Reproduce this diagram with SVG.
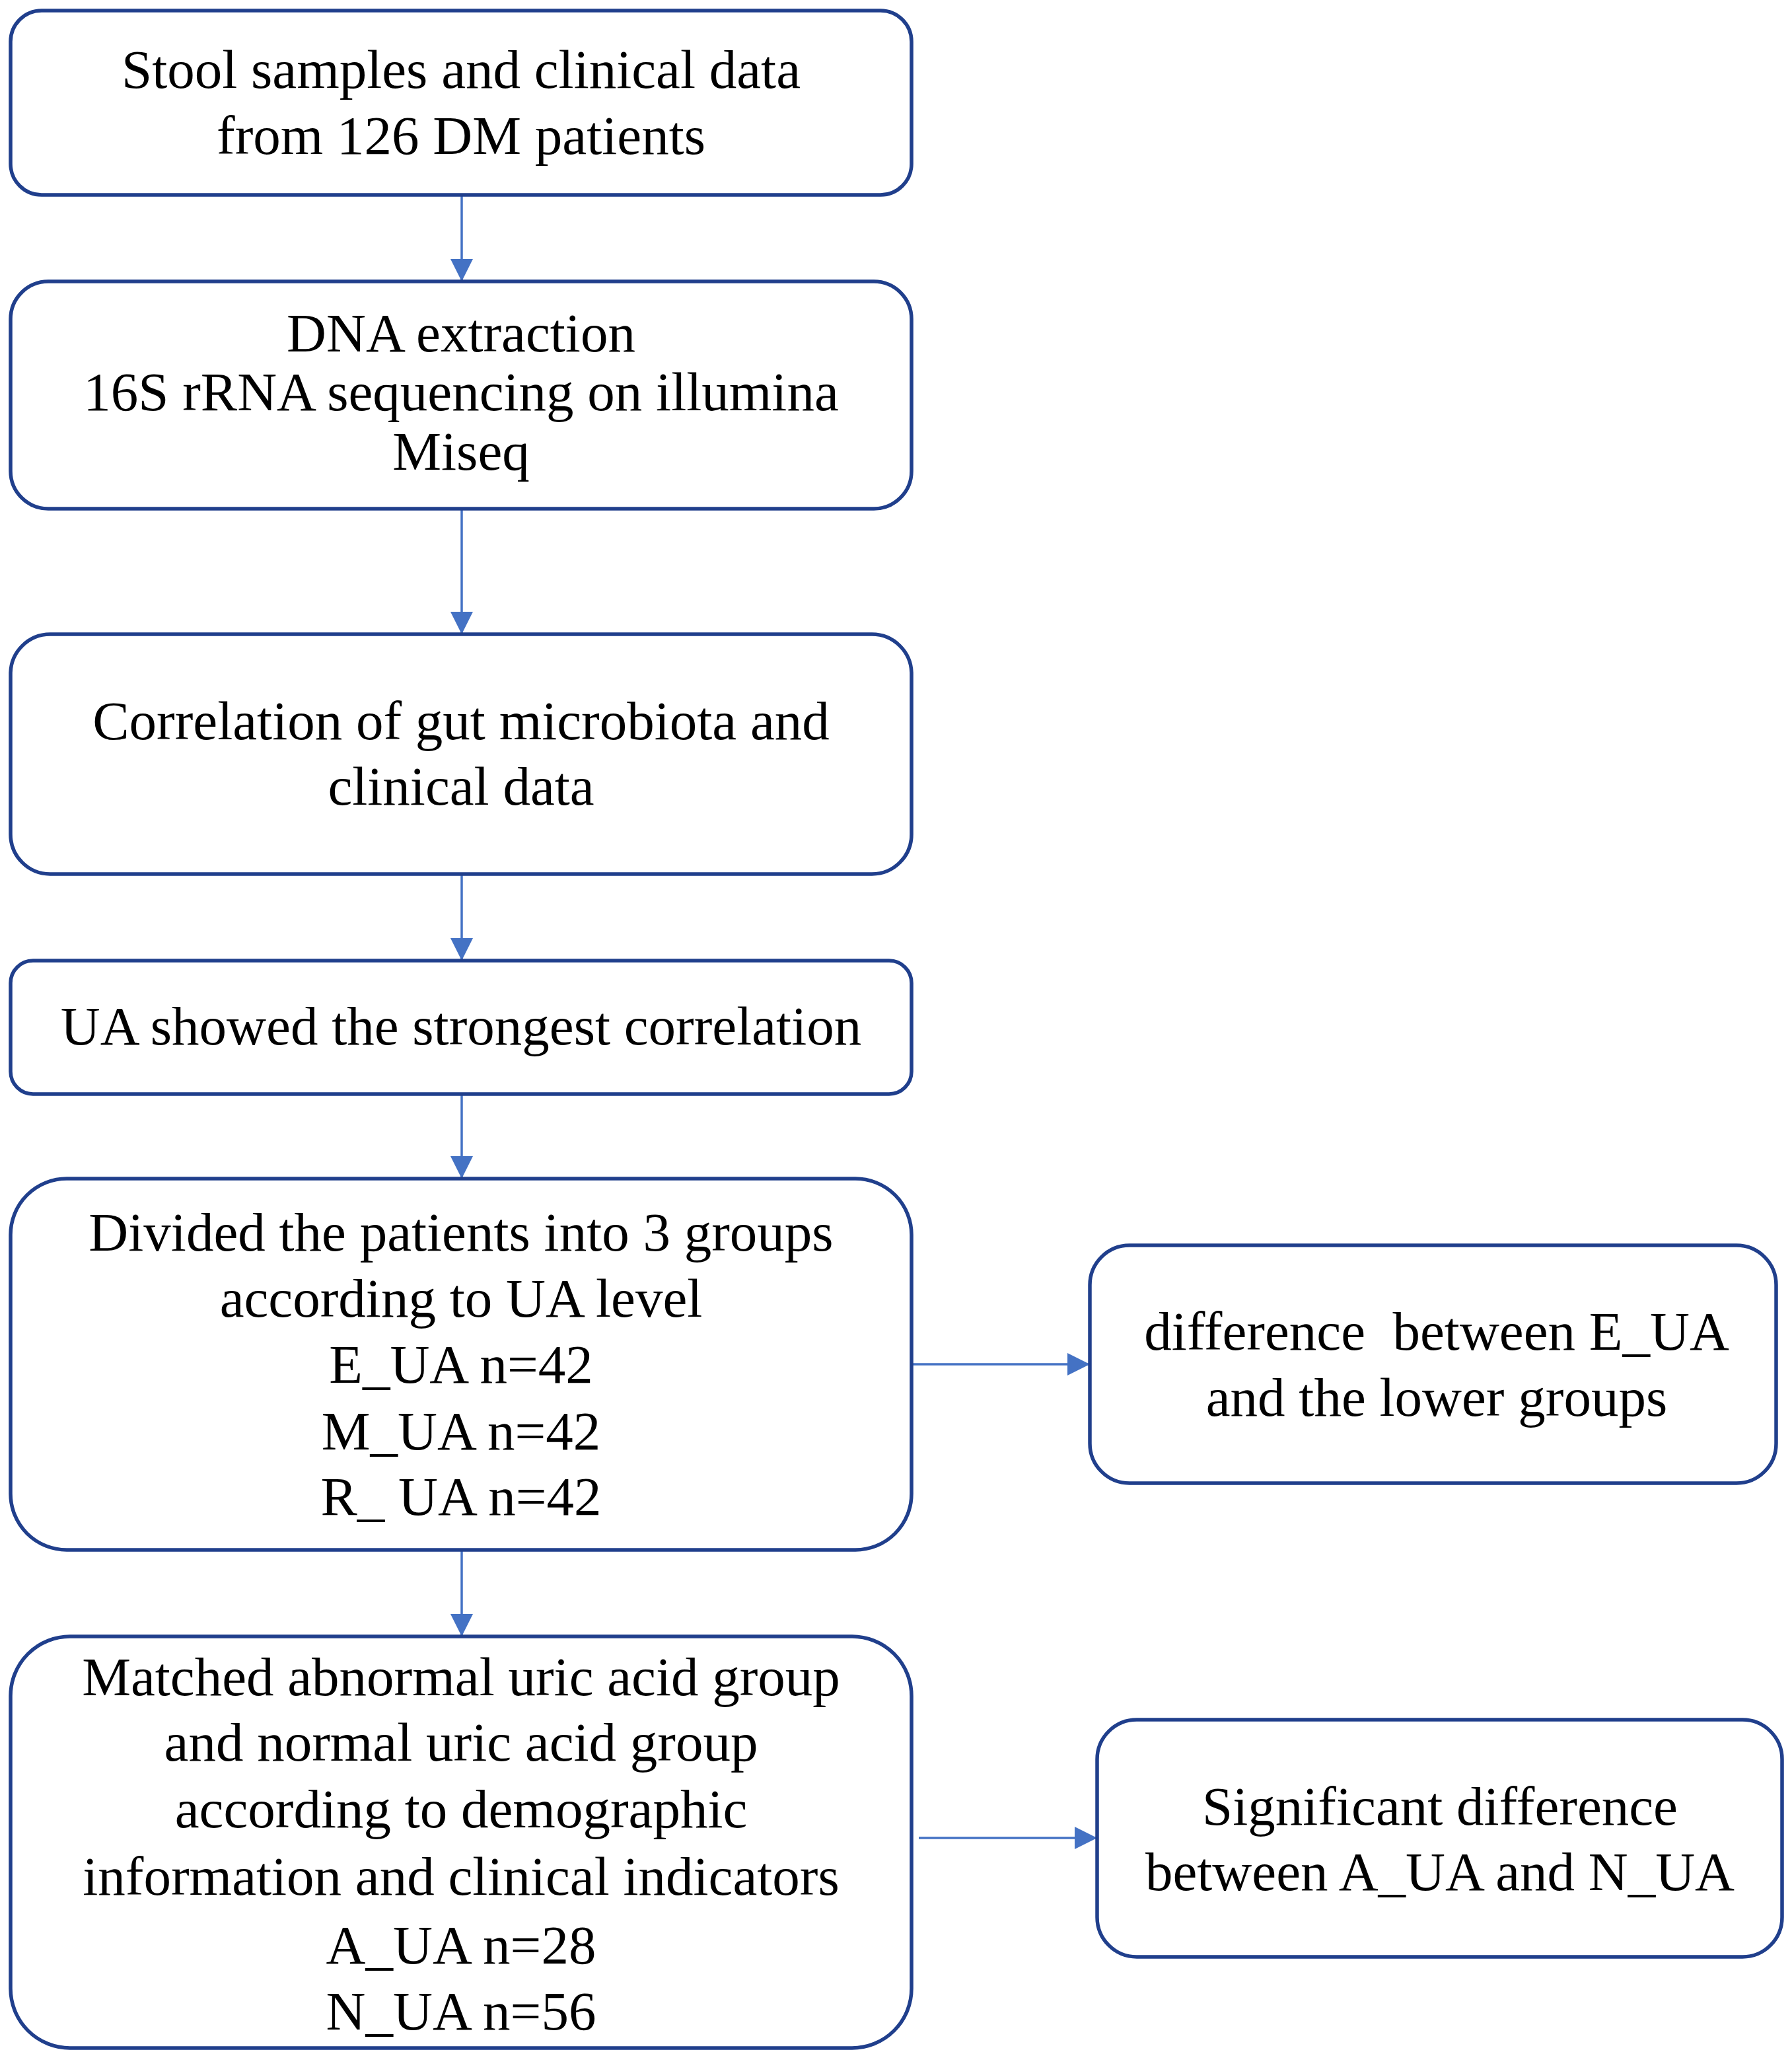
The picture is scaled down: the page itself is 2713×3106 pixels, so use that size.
<svg xmlns="http://www.w3.org/2000/svg" width="2713" height="3106" viewBox="0 0 2713 3106">
<style>
.box{fill:#fff;stroke:#203F8C;stroke-width:5.5}
.t{font-family:"Liberation Serif","Times New Roman",serif;font-size:83px;fill:#000;text-anchor:middle;white-space:pre}
.c{fill:none;stroke:#4472C4;stroke-width:3.5}
</style>
<defs>
<marker id="ah" markerUnits="userSpaceOnUse" markerWidth="34" markerHeight="34" viewBox="0 0 34 34" refX="34" refY="17" orient="auto">
<path d="M0,0 L34,17 L0,34 z" fill="#4472C4"/>
</marker>
</defs>
<rect width="2713" height="3106" fill="#fff"/>
<g id="connectors">
<line class="c" x1="699" y1="295" x2="699" y2="426" marker-end="url(#ah)"/>
<line class="c" x1="699" y1="770" x2="699" y2="960" marker-end="url(#ah)"/>
<line class="c" x1="699" y1="1323" x2="699" y2="1454" marker-end="url(#ah)"/>
<line class="c" x1="699" y1="1656" x2="699" y2="1784" marker-end="url(#ah)"/>
<line class="c" x1="699" y1="2346" x2="699" y2="2477" marker-end="url(#ah)"/>
<line class="c" x1="1380" y1="2065" x2="1650" y2="2065" marker-end="url(#ah)"/>
<line class="c" x1="1391" y1="2782" x2="1661" y2="2782" marker-end="url(#ah)"/>
</g>
<g id="n1">
<rect class="box" x="16" y="16" width="1364" height="279" rx="47"/>
<text class="t" x="698" y="133">Stool samples and clinical data</text>
<text class="t" x="698" y="233">from 126 DM patients</text>
</g>
<g id="n2">
<rect class="box" x="16" y="426" width="1364" height="344" rx="57"/>
<text class="t" x="698" y="532">DNA extraction</text>
<text class="t" x="698" y="621">16S rRNA sequencing on illumina</text>
<text class="t" x="698" y="711">Miseq</text>
</g>
<g id="n3">
<rect class="box" x="16" y="960" width="1364" height="363" rx="60"/>
<text class="t" x="698" y="1119">Correlation of gut microbiota and</text>
<text class="t" x="698" y="1218">clinical data</text>
</g>
<g id="n4">
<rect class="box" x="16" y="1454" width="1364" height="202" rx="34"/>
<text class="t" x="698" y="1581">UA showed the strongest correlation</text>
</g>
<g id="n5">
<rect class="box" x="16" y="1784" width="1364" height="562" rx="85"/>
<text class="t" x="698" y="1893">Divided the patients into 3 groups</text>
<text class="t" x="698" y="1993">according to UA level</text>
<text class="t" x="698" y="2093">E_UA n=42</text>
<text class="t" x="698" y="2194">M_UA n=42</text>
<text class="t" x="698" y="2293">R_ UA n=42</text>
</g>
<g id="n6">
<rect class="box" x="16" y="2477" width="1364" height="623" rx="90"/>
<text class="t" x="698" y="2566">Matched abnormal uric acid group</text>
<text class="t" x="698" y="2665">and normal uric acid group</text>
<text class="t" x="698" y="2766">according to demographic</text>
<text class="t" x="698" y="2868">information and clinical indicators</text>
<text class="t" x="698" y="2972">A_UA n=28</text>
<text class="t" x="698" y="3072">N_UA n=56</text>
</g>
<g id="n7">
<rect class="box" x="1650" y="1885" width="1039" height="360" rx="60"/>
<text class="t" x="2175" y="2043">difference  between E_UA</text>
<text class="t" x="2175" y="2143">and the lower groups</text>
</g>
<g id="n8">
<rect class="box" x="1661" y="2603" width="1037" height="359" rx="60"/>
<text class="t" x="2180" y="2762">Significant difference</text>
<text class="t" x="2180" y="2861">between A_UA and N_UA</text>
</g>
</svg>
